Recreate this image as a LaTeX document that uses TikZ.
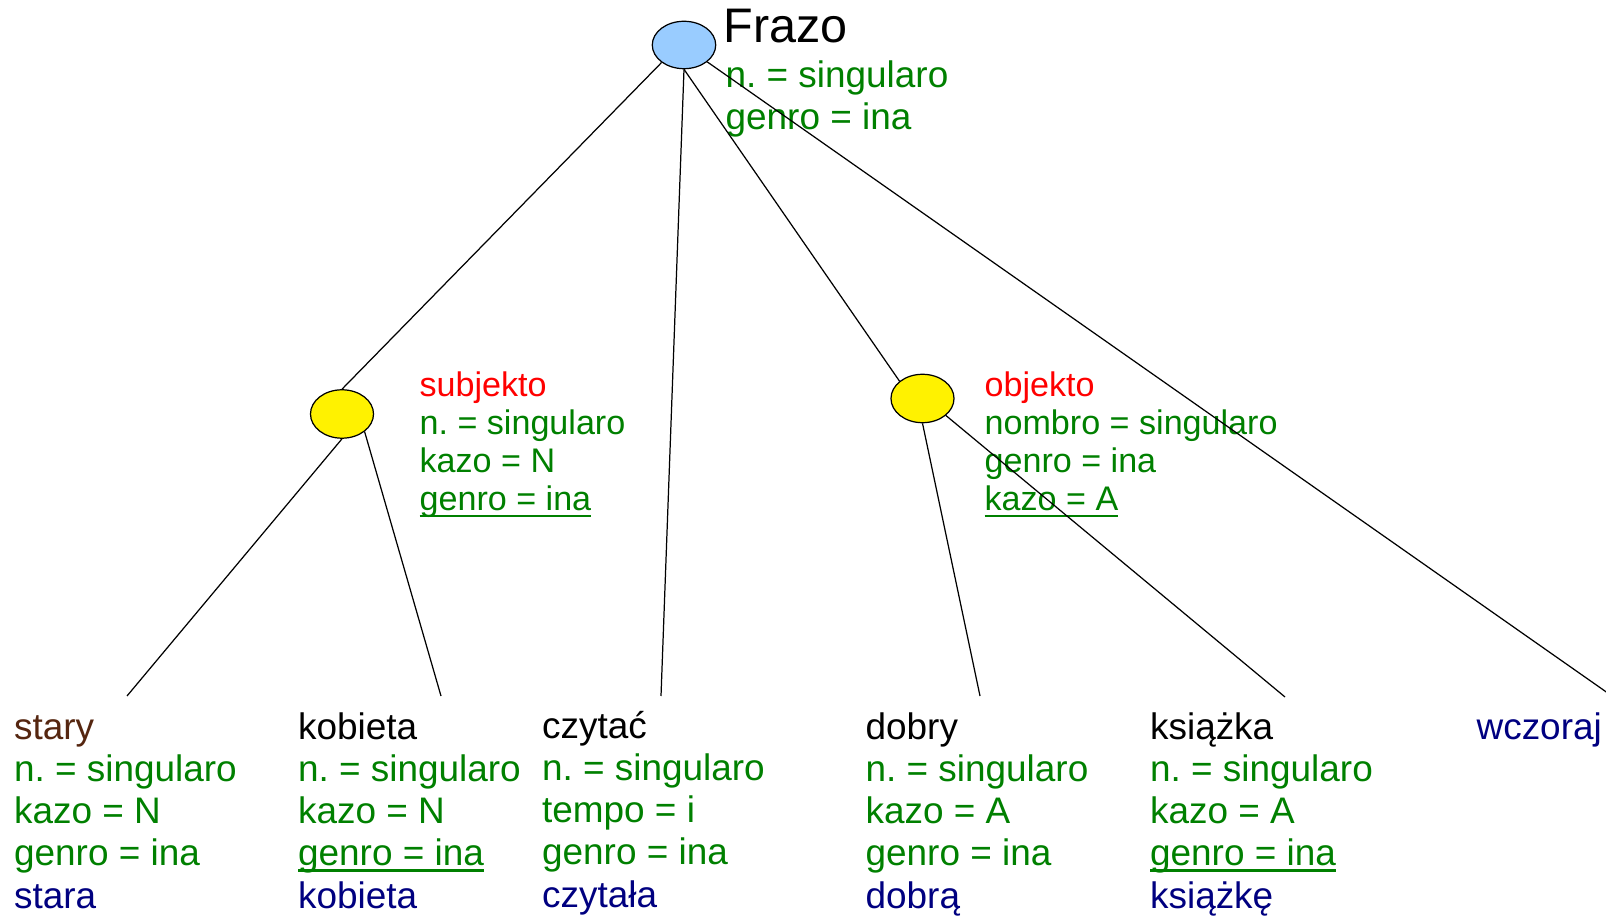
\documentclass[tikz,border=0pt]{standalone}
\usepackage{fontspec}
\setmainfont{Liberation Sans}
\usetikzlibrary{shapes.geometric}
\frenchspacing

\definecolor{feat}{RGB}{0,128,0}
\definecolor{role}{RGB}{255,0,0}
\definecolor{form}{RGB}{0,0,128}
\definecolor{adjbrown}{RGB}{85,38,16}
\definecolor{rootblue}{RGB}{153,204,255}

% underline that sits close to the baseline
\newsavebox\undlbox
\newcommand\undl[1]{\sbox\undlbox{#1}\rlap{\rule[-1.6pt]{\wd\undlbox}{0.6pt}}\usebox\undlbox}

\begin{document}
\begin{tikzpicture}[x=0.01cm, y=-0.01cm, line width=0.35pt,
    phrase/.style={ellipse, draw=black, inner sep=0pt, minimum width=0.63cm, minimum height=0.484cm},
    leaf/.style={anchor=base west, align=left, inner sep=0pt, font=\fontsize{10.5}{11.95}\selectfont},
    attrs/.style={anchor=base west, align=left, inner sep=0pt, font=\fontsize{9.7}{10.9}\selectfont}]
    \useasboundingbox (0,0) rectangle (1606,916);

    \node[phrase, fill=rootblue, minimum width=0.634cm, minimum height=0.474cm] (frazo) at (684,45) {};
    \node[phrase, fill=yellow] (subj) at (342,414) {};
    \node[phrase, fill=yellow] (obj) at (922.5,398.5) {};

    % multi-line labels are placed by the baseline of their last line
    \node[anchor=base west, inner sep=0pt, font=\fontsize{13.8}{16}\selectfont] (frazo-lbl) at (723,43) {Frazo};
    \node[attrs, font=\fontsize{10.5}{12.05}\selectfont, text=feat] (frazo-attr) at (725,130) {n. = singularo\\genro = ina};

    \node[attrs] (subj-attr) at (419,511) {\textcolor{role}{subjekto}\\
        \textcolor{feat}{n. = singularo}\\
        \textcolor{feat}{kazo = N}\\
        \textcolor{feat}{\undl{genro = ina}}};
    \node[attrs] (obj-attr) at (984,511) {\textcolor{role}{objekto}\\
        \textcolor{feat}{nombro = singularo}\\
        \textcolor{feat}{genro = ina}\\
        \textcolor{feat}{\undl{kazo = A}}};

    % the words
    \node[leaf] (stary) at (13.5,908) {\textcolor{adjbrown}{stary}\\
        \textcolor{feat}{n. = singularo}\\
        \textcolor{feat}{kazo = N}\\
        \textcolor{feat}{genro = ina}\\
        \textcolor{form}{stara}};
    \node[leaf] (kobieta) at (297.5,908) {kobieta\\
        \textcolor{feat}{n. = singularo}\\
        \textcolor{feat}{kazo = N}\\
        \textcolor{feat}{\undl{genro = ina}}\\
        \textcolor{form}{kobieta}};
    \node[leaf] (czytac) at (541.5,907) {czytać\\
        \textcolor{feat}{n. = singularo}\\
        \textcolor{feat}{tempo = i}\\
        \textcolor{feat}{genro = ina}\\
        \textcolor{form}{czytała}};
    \node[leaf] (dobry) at (865,908) {dobry\\
        \textcolor{feat}{n. = singularo}\\
        \textcolor{feat}{kazo = A}\\
        \textcolor{feat}{genro = ina}\\
        \textcolor{form}{dobrą}};
    \node[leaf] (ksiazka) at (1149.5,908) {książka\\
        \textcolor{feat}{n. = singularo}\\
        \textcolor{feat}{kazo = A}\\
        \textcolor{feat}{\undl{genro = ina}}\\
        \textcolor{form}{książkę}};
    \node[leaf, text=form] (wczoraj) at (1476,740) {wczoraj};

    \coordinate (stary-top) at (127,696);
    \coordinate (kobieta-top) at (441,696);
    \coordinate (czytac-top) at (661,696);
    \coordinate (dobry-top) at (980,696);
    \coordinate (ksiazka-top) at (1285,697);
    \coordinate (wczoraj-top) at (1612,696);

    \draw (frazo.218) -- (subj.north);
    \draw (frazo.south) -- (czytac-top);
    \draw (frazo.south) -- (obj.143);
    \draw (frazo.-36.5) -- (wczoraj-top);
    \draw (subj.south) -- (stary-top);
    \draw (subj.-38.5) -- (kobieta-top);
    \draw (obj.south) -- (dobry-top);
    \draw (obj.-36) -- (ksiazka-top);
\end{tikzpicture}
\end{document}
